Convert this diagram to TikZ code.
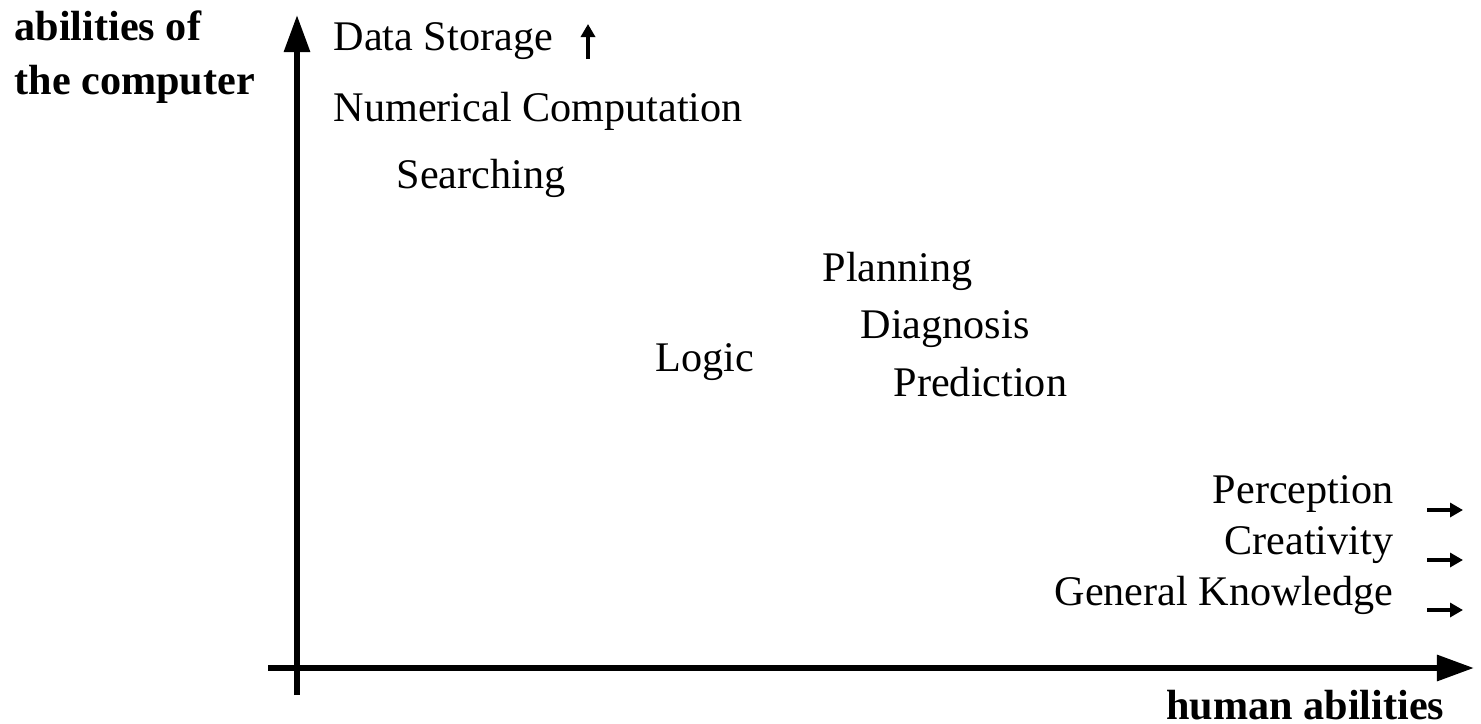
\documentclass[tikz,border=0pt]{standalone}
\usepackage{fontspec}
\setmainfont{Liberation Serif}
\usepackage{tikz}
\usetikzlibrary{positioning,arrows.meta}

\begin{document}
\begin{tikzpicture}[
  x=0.01cm, y=-0.01cm,
  font=\fontsize{12}{14}\selectfont,
  lbl/.style={anchor=base west, inner sep=0pt},
  rlbl/.style={anchor=base east, inner sep=0pt},
  axtitle/.style={lbl, font=\fontsize{12}{14}\selectfont\bfseries},
  axis/.style={line width=1.7pt, -{Triangle[length=3.7mm, width=2.5mm]}},
  more/.style={line width=1.3pt, -{Triangle[length=1.3mm, width=1.4mm]}},
]
\useasboundingbox (0,0) rectangle (1481,724);
% axes
\coordinate (o-v) at (297,695);
\coordinate (top) at (297,15);
\coordinate (o-h) at (268,668);
\coordinate (right) at (1474,668);
\draw[axis] (o-v) -- (top);
\draw[axis] (o-h) -- (right);
% axis titles
\node[axtitle] (yt1) at (14,40) {abilities of};
\node[axtitle] (yt2) at (14,94) {the computer};
\node[axtitle, anchor=base east] (xt) at (1445,719) {human abilities};
% computer strengths (top left)
\node[lbl] (ds) at (333,50) {Data Storage};
\node[lbl] (nc) at (333,121) {Numerical Computation};
\node[lbl] (se) at (396,188) {Searching};
% middle
\node[lbl] (pl) at (822,281) {Planning};
\node[lbl] (dg) at (860,338) {Diagnosis};
\node[lbl] (lo) at (655,371) {Logic};
\node[lbl] (pr) at (893,396) {Prediction};
% human strengths (bottom right)
\node[rlbl] (pe) at (1394,503) {Perception};
\node[rlbl] (cr) at (1394,554) {Creativity};
\node[rlbl] (gk) at (1394,605) {General Knowledge};
% off-scale arrows
\coordinate (ds-a) at (588,59);
\coordinate (ds-b) at (588,24);
\draw[more] (ds-a) -- (ds-b);
\foreach \n/\y in {pe/510, cr/560, gk/610}{
  \coordinate (\n-a) at (1427,\y);
  \coordinate (\n-b) at (1463,\y);
  \draw[more] (\n-a) -- (\n-b);
}
\end{tikzpicture}
\end{document}
